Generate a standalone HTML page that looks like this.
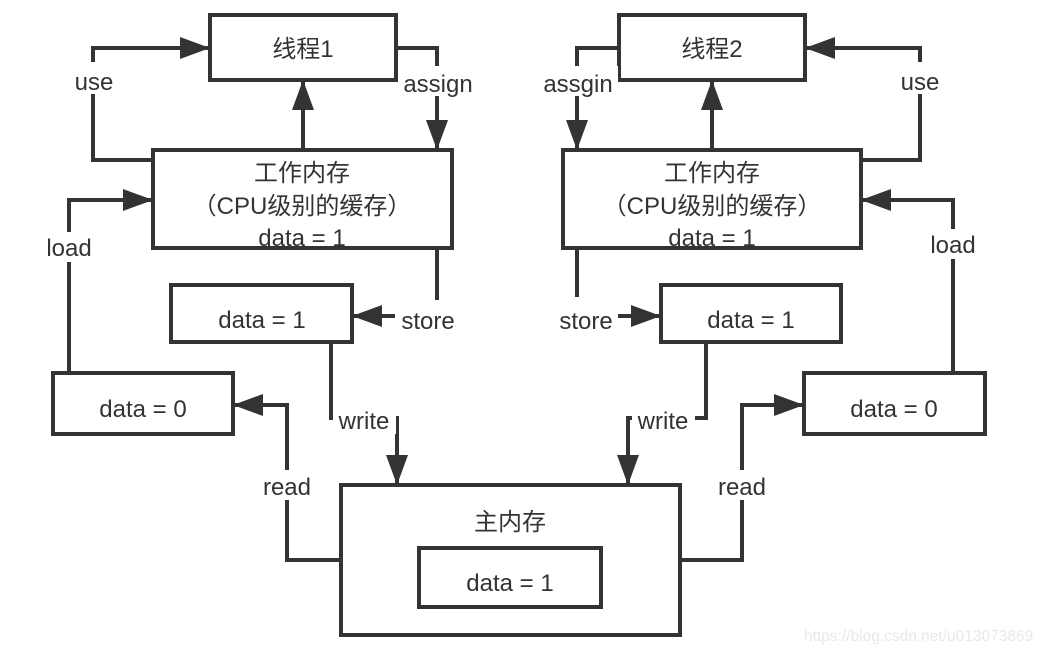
<!DOCTYPE html>
<html><head><meta charset="utf-8"><style>
html,body{margin:0;padding:0;background:#fff;}
svg{display:block;}
text{font-family:"Liberation Sans","Noto Sans CJK SC",sans-serif;font-size:24px;fill:#333;}
</style></head><body>
<svg width="1047" height="652" viewBox="0 0 1047 652" xmlns="http://www.w3.org/2000/svg">
<defs>
<marker id="a" markerUnits="userSpaceOnUse" markerWidth="32" markerHeight="32" refX="30" refY="16" orient="auto">
<path d="M0,5 L30,16 L0,27 Z" fill="#333"/>
</marker>
</defs>
<g fill="none" stroke="#333" stroke-width="4">
<rect x="210" y="15" width="186" height="65" fill="#fff"/>
<rect x="153" y="150" width="299" height="98" fill="#fff"/>
<rect x="171" y="285" width="181" height="57" fill="#fff"/>
<rect x="53" y="373" width="180" height="61" fill="#fff"/>
<rect x="619" y="15" width="186" height="65" fill="#fff"/>
<rect x="563" y="150" width="298" height="98" fill="#fff"/>
<rect x="661" y="285" width="180" height="57" fill="#fff"/>
<rect x="804" y="373" width="181" height="61" fill="#fff"/>
<rect x="341" y="485" width="339" height="150" fill="#fff"/>
<rect x="419" y="548" width="182" height="59" fill="#fff"/>
<path d="M303,150 V80" marker-end="url(#a)"/>
<path d="M153,160 H93 V48 H210" marker-end="url(#a)"/>
<path d="M396,48 H437 V150" marker-end="url(#a)"/>
<path d="M69,373 V200 H153" marker-end="url(#a)"/>
<path d="M437,248 V300"/>
<path d="M395,316 H352" marker-end="url(#a)"/>
<path d="M331,342 V418 H397 V485" marker-end="url(#a)"/>
<path d="M341,560 H287 V405 H233" marker-end="url(#a)"/>
<path d="M712,150 V80" marker-end="url(#a)"/>
<path d="M861,160 H920 V48 H805" marker-end="url(#a)"/>
<path d="M619,48 H577 V150" marker-end="url(#a)"/>
<path d="M953,373 V200 H861" marker-end="url(#a)"/>
<path d="M577,248 V297"/>
<path d="M618,316 H661" marker-end="url(#a)"/>
<path d="M706,342 V418 H628 V485" marker-end="url(#a)"/>
<path d="M680,560 H742 V405 H804" marker-end="url(#a)"/>
</g>
<g fill="#fff">
<rect x="68" y="62" width="52" height="32"/>
<rect x="398" y="66" width="82" height="30"/>
<rect x="38" y="232" width="62" height="30"/>
<rect x="396" y="302" width="68" height="32"/>
<rect x="333" y="404" width="63" height="30"/>
<rect x="256" y="470" width="62" height="30"/>
<rect x="536" y="66" width="82" height="30"/>
<rect x="894" y="62" width="52" height="32"/>
<rect x="924" y="229" width="60" height="30"/>
<rect x="552" y="302" width="66" height="32"/>
<rect x="632" y="404" width="63" height="30"/>
<rect x="711" y="470" width="62" height="30"/>
</g>
<g text-anchor="middle">
<text x="303" y="57">线程1</text>
<text x="712" y="57">线程2</text>
<text x="302" y="181">工作内存</text>
<text x="302" y="214">（CPU级别的缓存）</text>
<text x="302" y="246">data = 1</text>
<text x="712" y="181">工作内存</text>
<text x="712" y="214">（CPU级别的缓存）</text>
<text x="712" y="246">data = 1</text>
<text x="262" y="328">data = 1</text>
<text x="751" y="328">data = 1</text>
<text x="143" y="417">data = 0</text>
<text x="894" y="417">data = 0</text>
<text x="510" y="530">主内存</text>
<text x="510" y="591">data = 1</text>
<text x="94" y="90">use</text>
<text x="438" y="92">assign</text>
<text x="69" y="256">load</text>
<text x="428" y="329">store</text>
<text x="364" y="429">write</text>
<text x="287" y="495">read</text>
<text x="578" y="92">assgin</text>
<text x="920" y="90">use</text>
<text x="953" y="253">load</text>
<text x="586" y="329">store</text>
<text x="663" y="429">write</text>
<text x="742" y="495">read</text>
</g>
<text x="804" y="641" style="font-size:15.5px;fill:#e8e8e8">https://blog.csdn.net/u013073869</text>
</svg>
</body></html>
